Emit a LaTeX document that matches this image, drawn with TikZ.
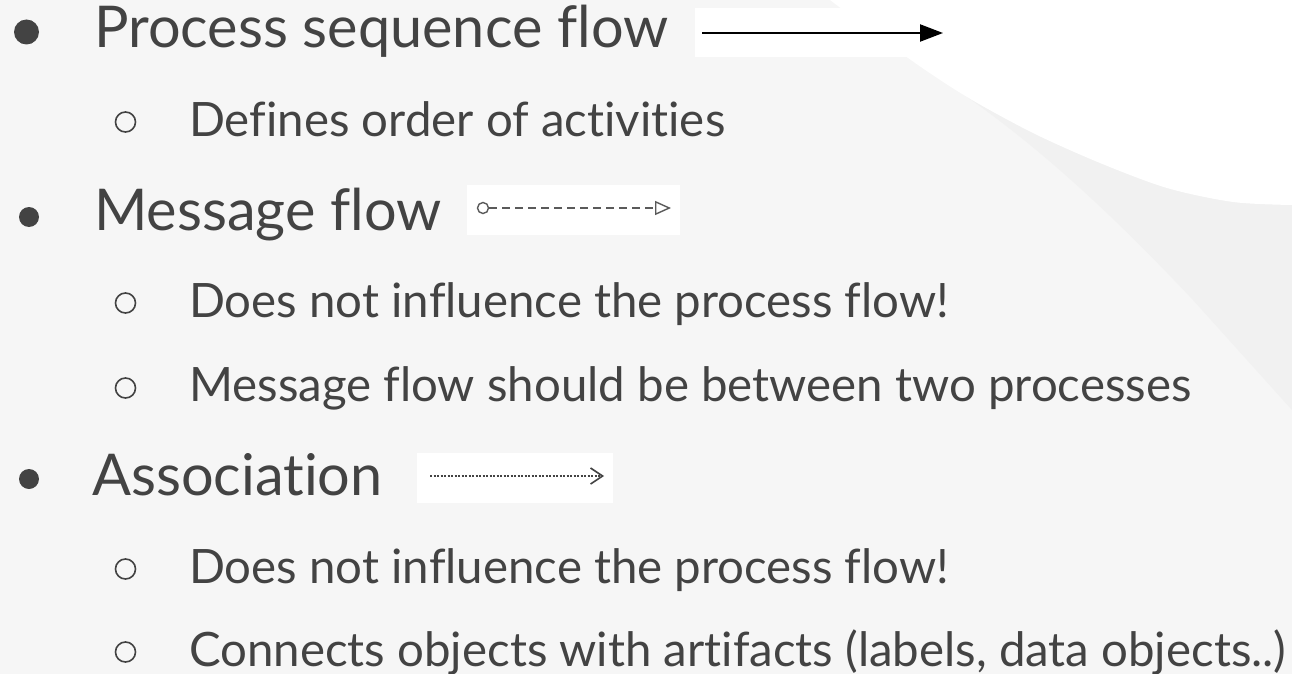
\documentclass[tikz,border=0pt]{standalone}
\usepackage{fontspec}
\setmainfont[RawFeature=-liga]{Lato}
\usetikzlibrary{arrows.meta}

\definecolor{ink}{HTML}{434343}
\definecolor{paper}{HTML}{F6F6F6}
\definecolor{band}{HTML}{F1F1F1}
\definecolor{wire}{HTML}{5A5A5A}

\tikzset{
  lvlone/.style={anchor=base west, inner sep=0pt, text=ink,
    font=\fontsize{57.6}{62}\selectfont},
  lvltwo/.style={anchor=base west, inner sep=0pt, text=ink,
    font=\fontsize{47.4}{52}\selectfont},
  dotbig/.style={fill=ink, draw=none},
  ring/.style={draw=ink, line width=1.6pt, fill=none},
  patch/.style={fill=white, draw=none},
}

\begin{document}
\begin{tikzpicture}[x=1pt, y=-1pt]
  % page and background swoosh
  \useasboundingbox (0,0) rectangle (1292,674);
  \fill[paper] (0,0) rectangle (1292,674);
  \fill[band] (908,58) .. controls (1000,115) and (1080,180) .. (1193,300)
     -- (1292,410) -- (1292,205) -- (908,58) -- cycle;
  \fill[white] plot[smooth] coordinates {(830,0) (908,58) (967,97) (1033,133)
     (1100,163) (1167,188) (1233,202) (1292,205)} -- (1292,0) -- cycle;

  % level-one bullets
  \fill[dotbig] (26.5,32) circle (12.5);
  \fill[dotbig] (29,217) circle (10);
  \fill[dotbig] (29,479) circle (10);

  % level-two bullets
  \foreach \yy in {122,303,388,569,652}
    \draw[ring] (125.5,\yy) circle (10);

  % texts
  \node[lvlone] (t1) at (94,48) {Process sequence flow};
  \node[lvltwo] (t1a) at (189,136) {Defines order of activities};
  \node[lvlone] (t2) at (94,230) {Message flow};
  \node[lvltwo] (t2a) at (189,317) {Does not influence the process flow!};
  \node[lvltwo] (t2b) at (189,401) {Message flow should be between two processes};
  \node[lvlone] (t3) at (92,495) {Association};
  \node[lvltwo] (t3a) at (189,583) {Does not influence the process flow!};
  \node[lvltwo] (t3b) at (189,666) {Connects objects with artifacts (labels, data objects..)};

  % sequence flow sample
  \fill[patch] (695,8) rectangle (960,57);
  \coordinate (s1) at (702,33);
  \coordinate (s2) at (943,33);
  \draw[black, line width=2.2pt, -{Triangle[length=23pt,width=17pt]}] (s1) -- (s2);

  % message flow sample
  \fill[patch] (467,185) rectangle (680,235);
  \node[draw=wire, line width=1.4pt, circle, minimum size=11pt, inner sep=0pt] (m1) at (483,208) {};
  \coordinate (m2) at (671,208);
  \draw[wire, line width=1.4pt, dash pattern=on 8pt off 5pt,
        -{Triangle[open,length=16pt,width=14pt,line width=1.4pt]}] (m1) -- (m2);

  % association sample
  \fill[patch] (417,453) rectangle (613,503);
  \coordinate (a1) at (430,476);
  \coordinate (a2) at (604,476);
  \draw[ink, line width=1.4pt, dash pattern=on 2pt off 1.5pt,
        -{Straight Barb[length=12pt,width=16pt,line width=1.6pt]}] (a1) -- (a2);
\end{tikzpicture}
\end{document}
